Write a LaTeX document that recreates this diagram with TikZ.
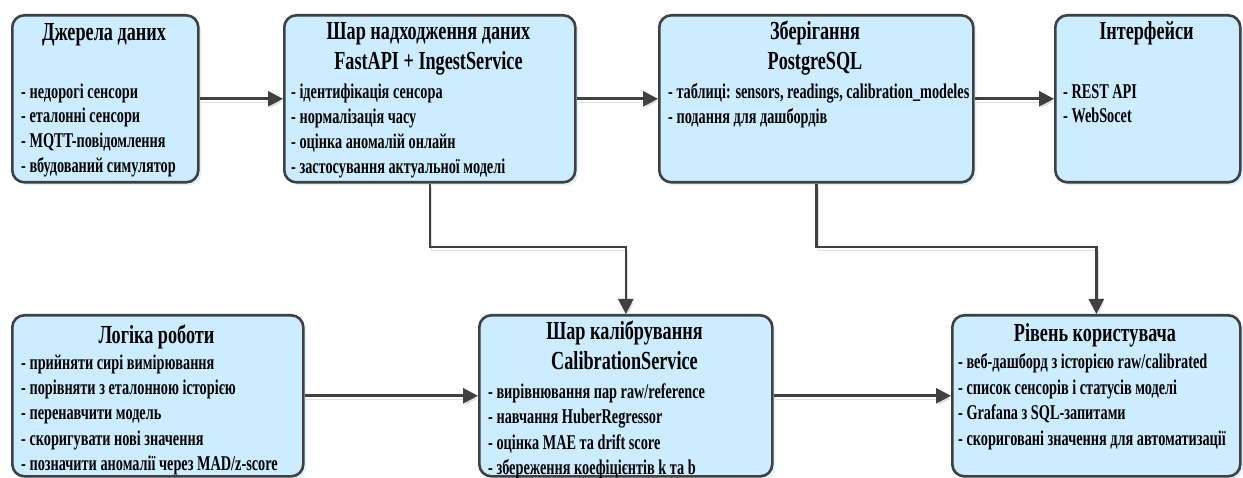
\documentclass[tikz,border=0pt]{standalone}
\usepackage{fontspec}
\setmainfont{Liberation Serif}
\newfontfamily\itemfont{Liberation Serif}[FakeStretch=0.68]
\newfontfamily\titlefont{Liberation Serif}[FakeStretch=0.70]
\usetikzlibrary{arrows.meta,shadows}
\definecolor{boxfill}{RGB}{204,236,255}
\definecolor{glow}{RGB}{222,242,255}
\definecolor{edgecol}{RGB}{64,64,64}
\tikzset{
  box/.style={draw=edgecol, line width=2.6pt, fill=boxfill, rounded corners=12pt,
    inner sep=0pt, anchor=north west,
    drop shadow={shadow xshift=3pt, shadow yshift=-3pt, fill=glow, opacity=1}},
  ttl/.style={font=\titlefont\fontsize{26}{28}\selectfont\bfseries, anchor=base, inner sep=0pt, yshift=-2pt},
  itm/.style={font=\itemfont\fontsize{21}{23}\selectfont\bfseries, anchor=base west, inner sep=0pt, yshift=-2pt},
  arr/.style={draw=edgecol, line width=2.6pt, -{Triangle[length=15pt,width=15pt]},
    preaction={draw=black!12, transform canvas={xshift=1.5pt, yshift=-3pt}}},
}
\begin{document}
\begin{tikzpicture}[x=1pt,y=-1pt]
\useasboundingbox (0,0) rectangle (1243,478);
\coordinate (mid) at (0,247);
% boxes
\node[box, minimum width=186pt, minimum height=167pt] (b1) at (11,14) {};
\node[box, minimum width=291pt, minimum height=167pt] (b2) at (283,14) {};
\node[box, minimum width=314pt, minimum height=167pt] (b3) at (658,14) {};
\node[box, minimum width=185pt, minimum height=167pt] (b4) at (1054,14) {};
\node[box, minimum width=291pt, minimum height=161pt] (b5) at (11,314) {};
\node[box, minimum width=293pt, minimum height=161pt] (b6) at (478,314) {};
\node[box, minimum width=288pt, minimum height=161pt] (b7) at (951,314) {};
% box 1
\node[ttl] (t1) at (104,39) {Джерела даних};
\node[itm] (i1a) at (21,97) {- недорогі сенсори};
\node[itm] (i1b) at (21,121) {- еталонні сенсори};
\node[itm] (i1c) at (21,146) {- MQTT-повідомлення};
\node[itm] (i1d) at (21,171) {- вбудований симулятор};
% box 2
\node[ttl] (t2a) at (428.5,38) {Шар надходження даних};
\node[ttl] (t2b) at (428.5,68) {FastAPI + IngestService};
\node[itm] (i2a) at (291,97) {- ідентифікація сенсора};
\node[itm] (i2b) at (291,122) {- нормалізація часу};
\node[itm] (i2c) at (291,147) {- оцінка аномалій онлайн};
\node[itm] (i2d) at (291,172) {- застосування актуальної моделі};
% box 3
\node[ttl] (t3a) at (815,38) {Зберігання};
\node[ttl] (t3b) at (815,68) {PostgreSQL};
\node[itm] (i3a) at (668,97) {- таблиці: sensors, readings, calibration\_modeles};
\node[itm] (i3b) at (668,122) {- подання для дашбордів};
% box 4
\node[ttl] (t4) at (1146.5,38) {Інтерфейси};
\node[itm] (i4a) at (1063,97) {- REST API};
\node[itm] (i4b) at (1063,121) {- WebSocet};
% box 5
\node[ttl] (t5) at (156.5,342) {Логіка роботи};
\node[itm] (i5a) at (21,368) {- прийняти сирі вимірювання};
\node[itm] (i5b) at (21,393) {- порівняти з еталонною історією};
\node[itm] (i5c) at (21,418) {- перенавчити модель};
\node[itm] (i5d) at (21,443) {- скоригувати нові значення};
\node[itm] (i5e) at (21,468) {- позначити аномалії через MAD/z-score};
% box 6
\node[ttl] (t6a) at (624.5,338) {Шар калібрування};
\node[ttl] (t6b) at (624.5,368) {CalibrationService};
\node[itm] (i6a) at (488,397) {- вирівнювання пар raw/reference};
\node[itm] (i6b) at (488,422) {- навчання HuberRegressor};
\node[itm] (i6c) at (488,447) {- оцінка MAE та drift score};
\node[itm] (i6d) at (488,472) {- збереження коефіцієнтів k та b};
% box 7
\node[ttl] (t7) at (1095,340) {Рівень користувача};
\node[itm] (i7a) at (958,367) {- веб-дашборд з історією raw/calibrated};
\node[itm] (i7b) at (958,393) {- список сенсорів і статусів моделі};
\node[itm] (i7c) at (958,418) {- Grafana з SQL-запитами};
\node[itm] (i7d) at (958,443) {- скориговані значення для автоматизації};
% connectors
\draw[arr] (b1) -- (b2);
\draw[arr] (b2) -- (b3);
\draw[arr] (b3) -- (b4);
\draw[arr] (b5) -- (b6);
\draw[arr] (b6) -- (b7);
\draw[arr] (b2.south) -- (b2.south |- mid) -| (b6.north);
\draw[arr] (b3.south) -- (b3.south |- mid) -| (b7.north);
\end{tikzpicture}
\end{document}
